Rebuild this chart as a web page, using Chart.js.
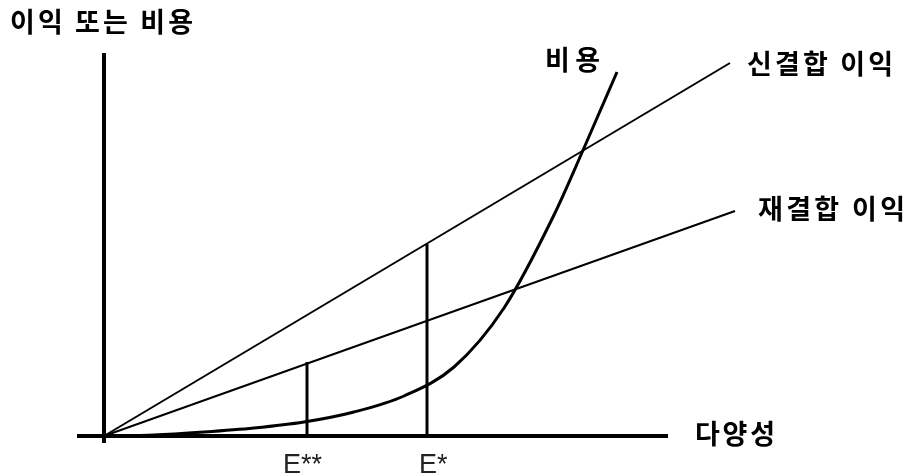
<!DOCTYPE html>
<html>
<head>
<meta charset="utf-8">
<script src="https://cdn.jsdelivr.net/npm/chart.js@4/dist/chart.umd.min.js"></script>
<style>
html, body { margin: 0; padding: 0; background: #fff; overflow: hidden; }
canvas { display: block; }
</style>
</head>
<body>
<canvas id="chartCurve" width="909" height="476"></canvas>
<script>
// x = 다양성, y = 이익 또는 비용, origin at the axis corner
const newGainX = [0, 626];
const newGainY = [0, 373];
const reGainX = [0, 631];
const reGainY = [0, 225];
const costX = [0, 50, 100, 150, 200, 250, 300, 350, 400, 450, 480, 513];
const costY = [0, 1, 4, 8, 14, 24, 40, 69, 128, 221, 288, 364];
const dropX = [203, 323];      // E**, E*
const dropTop = [74, 192];     // where each drop line meets the gain line
const tickLabels = ["E**", "E*"];
const seriesLabels = ["신결합 이익", "재결합 이익", "비용"];
const yTitle = "이익 또는 비용";
const xTitle = "다양성";

const toPoints = (xs, ys) => xs.map((x, i) => ({x: x, y: ys[i]}));

var datasets = [
    {label: seriesLabels[0], data: toPoints(newGainX, newGainY), borderWidth: 2},
    {label: seriesLabels[1], data: toPoints(reGainX, reGainY), borderWidth: 2},
    {label: seriesLabels[2], data: toPoints(costX, costY), borderWidth: 3, cubicInterpolationMode: "monotone"}
];
dropX.forEach(function(x, i) {
    datasets.push({label: tickLabels[i], data: [{x: x, y: 0}, {x: x, y: dropTop[i]}], borderWidth: 3});
});
datasets.forEach(function(d) {
    d.borderColor = "#000";
    d.pointRadius = 0;
    d.fill = false;
    d.clip = false;
});

// only the zero line of each scale is kept, it draws the axes
const axisOnly = {
    display: true,
    grid: {color: "#000", lineWidth: 4, drawTicks: false},
    border: {display: false},
    ticks: {display: false},
    afterBuildTicks: function(scale) { scale.ticks = [{value: 0}]; }
};

const labelPlugin = {
    id: "labels",
    afterDatasetsDraw(chart) {
        const c = chart.ctx;
        const xs = chart.scales.x;
        c.save();
        c.fillStyle = "#000";
        c.textAlign = "left";
        c.textBaseline = "middle";
        const put = function(text, x, y, w, font) {
            c.font = font;
            c.letterSpacing = "0px";
            const n = Array.from(text).length;
            const sp = (w - c.measureText(text).width) / (n - 1);
            c.letterSpacing = sp + "px";
            c.fillText(text, x, y);
        };
        const kr = "bold 27px 'Noto Sans CJK KR'";
        put(yTitle, 10, 22, 183, kr);
        put(seriesLabels[0], 747, 64, 146, kr);
        put(seriesLabels[1], 758, 209, 147, kr);
        put(seriesLabels[2], 545, 60, 55, kr);
        put(xTitle, 695, 434, 80, kr);
        // E** / E* under the drop lines
        c.letterSpacing = "0px";
        c.textBaseline = "top";
        c.fillStyle = "#222";
        c.font = "27px 'Liberation Sans Narrow', 'Liberation Sans'";
        const shift = [-24, -8];
        tickLabels.forEach(function(t, i) {
            c.fillText(t, xs.getPixelForValue(dropX[i]) + shift[i], 452);
        });
        c.restore();
    }
};

var chartCurve = new Chart(document.getElementById("chartCurve").getContext("2d"), {
    type: "line",
    data: {datasets: datasets},
    options: {
        responsive: false,
        animation: false,
        layout: {padding: {left: 77, top: 53, right: 241, bottom: 33}},
        scales: {
            x: Object.assign({type: "linear", min: -27, max: 564}, axisOnly),
            y: Object.assign({type: "linear", min: -7, max: 383}, axisOnly)
        },
        plugins: {
            legend: {display: false},
            tooltip: {enabled: false}
        }
    },
    plugins: [labelPlugin]
});
</script>
</body>
</html>
